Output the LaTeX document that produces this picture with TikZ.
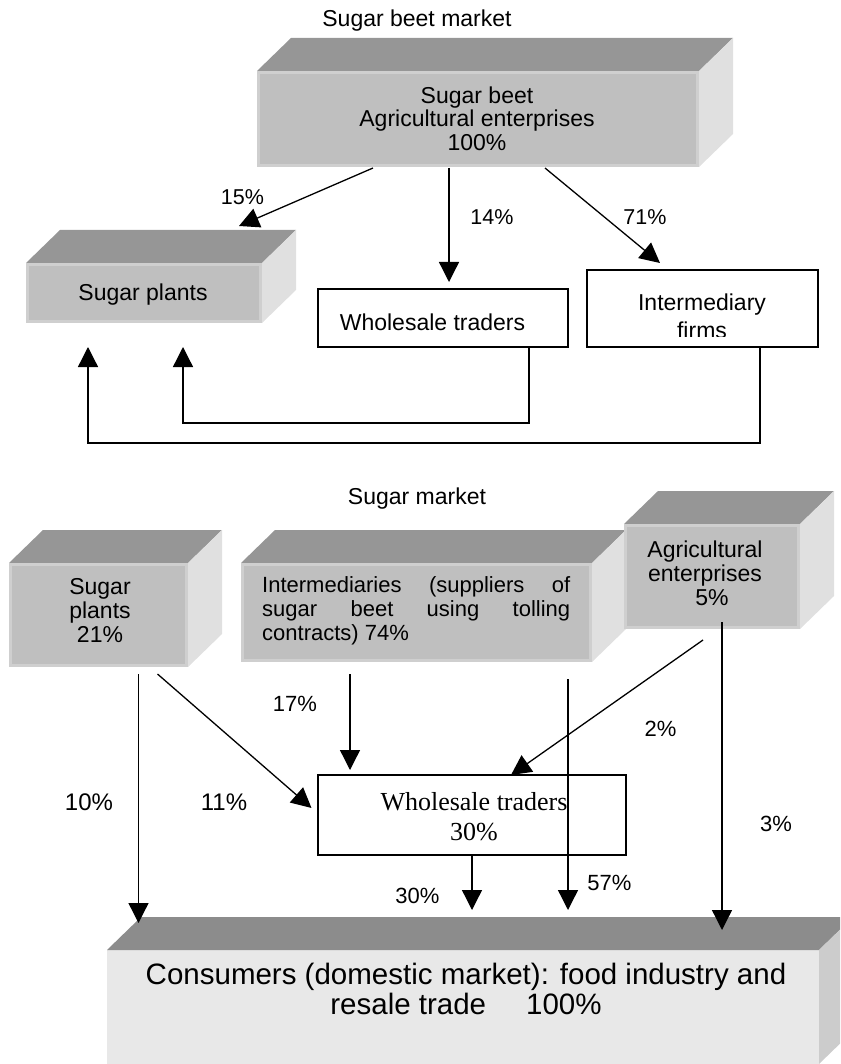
\documentclass[tikz,border=0pt]{standalone}
\usepackage{fontspec}
\setmainfont{Liberation Sans}
\newfontfamily\timesfont{Liberation Serif}
\usetikzlibrary{arrows.meta}
\definecolor{frontc}{gray}{0.75}
\definecolor{stripc}{gray}{0.81}
\definecolor{topc}{gray}{0.59}
\definecolor{sidec}{gray}{0.88}
\definecolor{cfront}{gray}{0.91}
\definecolor{ctop}{gray}{0.55}
\definecolor{cside}{gray}{0.80}
\newcommand\cubefaces[3]{%
  \fill[#2] (#1.north west) -- ++(34,-33) -- ([shift={(34,-33)}]#1.north east) -- (#1.north east) -- cycle;
  \fill[#3] (#1.north east) -- ++(34,-33) -- ([shift={(34,-33)}]#1.south east) -- (#1.south east) -- cycle;}
\newcommand\facestrip[1]{\draw[stripc,line width=3pt] ([shift={(1.5,1.5)}]#1.north west) rectangle ([shift={(-1.5,-1.5)}]#1.south east);}
\tikzset{
  frontface/.style={fill=frontc, inner sep=0pt, outer sep=0pt},
  whitebox/.style={draw=black, fill=white, line width=1.4pt, inner sep=0pt, outer sep=0pt},
  arr/.style={-{Triangle[length=20pt,width=20pt]}, line width=1.3pt},
  conn/.style={line width=1.3pt},
  lbl/.style={inner sep=0pt, font=\fontsize{22}{24}\selectfont},
  toplbl/.style={inner sep=0pt, font=\fontsize{21.5}{24}\selectfont},
  biglbl/.style={inner sep=0pt, font=\fontsize{24}{26}\selectfont},
  boxtxt/.style={inner sep=0pt, align=center, font=\fontsize{23}{24}\selectfont},
}
\begin{document}
\begin{tikzpicture}[x=1pt,y=-1pt]
\useasboundingbox (0,0) rectangle (840,1064);
\clip (0,0) rectangle (840,1064);

% ---------- Sugar beet market ----------
\node[inner sep=0pt, font=\fontsize{23}{24}\selectfont] (h1) at (417,20.5) {Sugar beet market};

\node[frontface, minimum width=442pt, minimum height=96pt] (topbox) at (478,119) {};
\cubefaces{topbox}{topc}{sidec}
\facestrip{topbox}
\node[boxtxt, font=\fontsize{23}{23.5}\selectfont] (toptxt) at (477,118.5) {Sugar beet\\Agricultural enterprises\\100\%};

\node[frontface, minimum width=236pt, minimum height=60pt] (splantsA) at (144,293) {};
\cubefaces{splantsA}{topc}{sidec}
\facestrip{splantsA}
\node[boxtxt] (splantsAtxt) at (143,295) {Sugar plants};

\node[whitebox, minimum width=250pt, minimum height=58pt] (wholeA) at (443,318) {};
\node[boxtxt] (wholeAtxt) at (432.5,322) {Wholesale traders};

\node[whitebox, minimum width=231pt, minimum height=77pt] (interA) at (702.5,308.5) {};
\begin{scope}
  \clip (589,272) rectangle (816,336);
  \node[boxtxt, font=\fontsize{23}{28}\selectfont] (interAtxt) at (702,316) {Intermediary\\firms};
\end{scope}

% arrows top
\coordinate (s15) at (373,168);  \coordinate (e15) at (239,226);
\coordinate (s14) at (449,168);  \coordinate (e14) at (449,282);
\coordinate (s71) at (545,168);  \coordinate (e71) at (660,263);
\draw[arr] (s15) -- (e15);
\draw[arr] (s14) -- (e14);
\draw[arr] (s71) -- (e71);
\node[toplbl] (l15) at (242.5,197) {15\%};
\node[toplbl] (l14) at (492,217) {14\%};
\node[toplbl] (l71) at (645,217) {71\%};

\coordinate (rw1) at (529,347); \coordinate (rw2) at (183,347);
\coordinate (ri1) at (760,347); \coordinate (ri2) at (88,347);
\draw[arr] (rw1) -- (529,423) -- (183,423) -- (rw2);
\draw[arr] (ri1) -- (760,443) -- (88,443) -- (ri2);

% ---------- Sugar market ----------
\node[inner sep=0pt, font=\fontsize{23}{24}\selectfont] (h2) at (417,499) {Sugar market};

\node[frontface, minimum width=179pt, minimum height=104pt] (splantsB) at (98.5,615) {};
\cubefaces{splantsB}{topc}{sidec}
\facestrip{splantsB}
\node[boxtxt] (splantsBtxt) at (100,611) {Sugar\\plants\\21\%};

\node[frontface, minimum width=351pt, minimum height=99pt] (interB) at (416.5,612.5) {};
\cubefaces{interB}{topc}{sidec}
\facestrip{interB}
\node[anchor=west, inner sep=0pt, align=left, font=\fontsize{22}{24}\selectfont] (interBtxt) at (262,611)
  {\makebox[308pt][s]{Intermediaries (suppliers of}\\\makebox[308pt][s]{sugar beet using tolling}\\contracts) 74\%};

\node[frontface, minimum width=176pt, minimum height=105pt] (agriB) at (712,576.5) {};
\cubefaces{agriB}{topc}{sidec}
\facestrip{agriB}
\node[boxtxt] (agriBtxt) at (705,573) {Agricultural\\enterprises\\\hspace*{14pt}5\%};

\node[whitebox, minimum width=308pt, minimum height=80pt] (wholeB) at (472,815) {};
\node[inner sep=0pt, align=center, font=\timesfont\fontsize{26}{30}\selectfont] (wholeBtxt) at (474,817) {Wholesale traders\\30\%};

\node[fill=cfront, inner sep=0pt, outer sep=0pt, minimum width=712pt, minimum height=114pt] (consB) at (463,1007) {};
\cubefaces{consB}{ctop}{cside}
\node[inner sep=0pt, align=center, font=\fontsize{29.5}{30}\selectfont] (consBtxt) at (466,989)
  {Consumers (domestic market): food industry and\\resale trade\hspace{40pt}100\%};

% arrows bottom
\coordinate (s10) at (138.5,674); \coordinate (e10) at (138.5,923);
\coordinate (s11) at (157.5,674); \coordinate (e11) at (311.5,808);
\coordinate (s17) at (350,674);   \coordinate (e17) at (350,770);
\coordinate (s2)  at (703,640);   \coordinate (e2)  at (511,775);
\coordinate (s57) at (568,679);   \coordinate (e57) at (568,910);
\coordinate (s30) at (472,855);   \coordinate (e30) at (472,910);
\coordinate (s3)  at (722,622);   \coordinate (e3)  at (722,930);
\draw[arr] (s10) -- (e10);
\draw[arr] (s11) -- (e11);
\draw[arr] (s17) -- (e17);
\draw[arr] (s2) -- (e2);
\draw[arr] (s57) -- (e57);
\draw[arr] (s30) -- (e30);
\draw[arr] (s3) -- (e3);

\node[lbl] (l17) at (295,704) {17\%};
\node[lbl] (l2) at (660.5,729) {2\%};
\node[biglbl] (l10) at (89,802) {10\%};
\node[biglbl] (l11) at (224,802) {11\%};
\node[lbl] (l57) at (609.5,883) {57\%};
\node[lbl] (l30) at (417.5,896) {30\%};
\node[lbl] (l3) at (776,824) {3\%};
\end{tikzpicture}
\end{document}
